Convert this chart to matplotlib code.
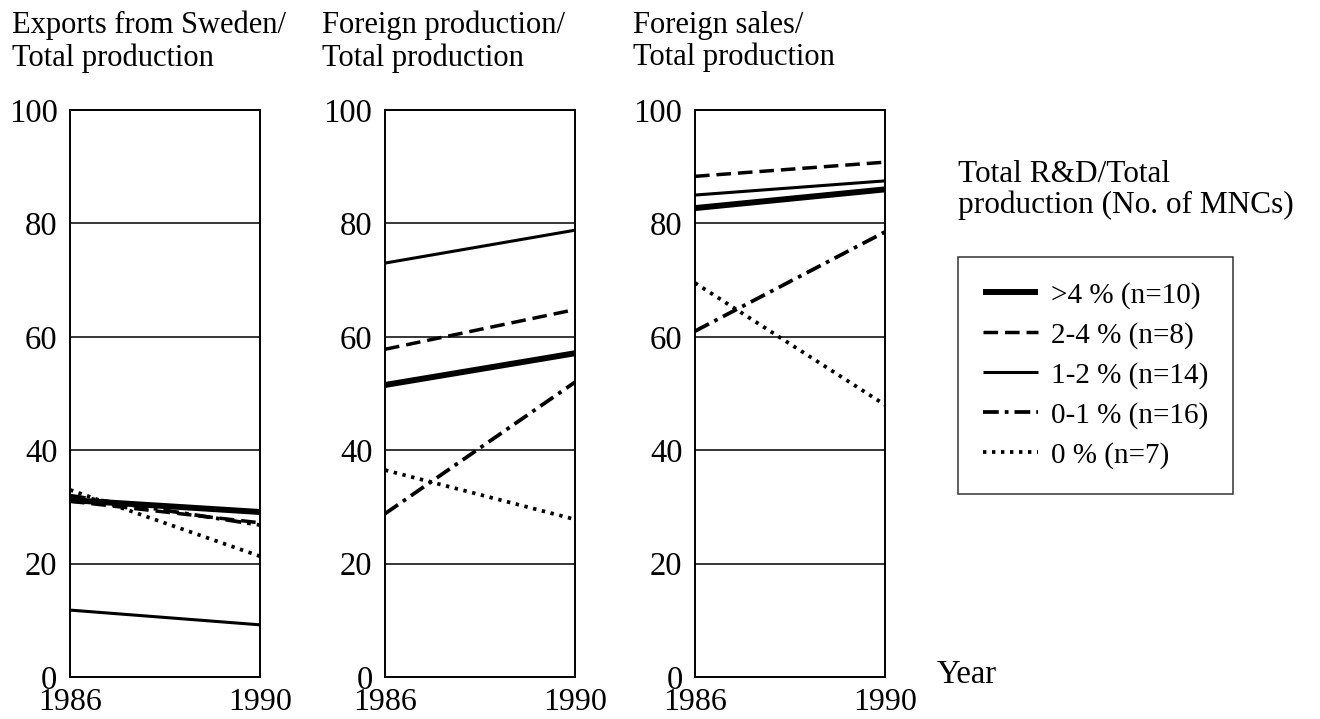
import matplotlib
matplotlib.use("Agg")
import matplotlib.pyplot as plt
from matplotlib.lines import Line2D

plt.rcParams['font.family'] = ['Liberation Serif', 'DejaVu Serif']

years = [1986, 1990]
categories = [">4 % (n=10)", "2-4 % (n=8)", "1-2 % (n=14)", "0-1 % (n=16)", "0 % (n=7)"]
panel_titles = ["Exports from Sweden/\nTotal production",
                "Foreign production/\nTotal production",
                "Foreign sales/\nTotal production"]

exports_sweden = {
    ">4 % (n=10)": [31.2, 29.1],
    "2-4 % (n=8)": [31.0, 27.2],
    "1-2 % (n=14)": [11.8, 9.2],
    "0-1 % (n=16)": [32.0, 26.8],
    "0 % (n=7)": [33.0, 21.3],
}
foreign_production = {
    ">4 % (n=10)": [51.5, 57.1],
    "2-4 % (n=8)": [57.8, 64.8],
    "1-2 % (n=14)": [73.0, 78.8],
    "0-1 % (n=16)": [28.8, 52.0],
    "0 % (n=7)": [36.5, 27.8],
}
foreign_sales = {
    ">4 % (n=10)": [82.7, 86.0],
    "2-4 % (n=8)": [88.3, 90.8],
    "1-2 % (n=14)": [85.0, 87.5],
    "0-1 % (n=16)": [61.0, 78.5],
    "0 % (n=7)": [69.5, 48.0],
}
panels = [exports_sweden, foreign_production, foreign_sales]
yticks = [0, 20, 40, 60, 80, 100]

styles = {
    ">4 % (n=10)": dict(lw=4.3, linestyle='-'),
    "2-4 % (n=8)": dict(lw=2.5, linestyle=(0, (4.2, 2.0))),
    "1-2 % (n=14)": dict(lw=2.2, linestyle='-'),
    "0-1 % (n=16)": dict(lw=2.7, linestyle=(0, (4.2, 1.6, 1.0, 1.6))),
    "0 % (n=7)": dict(lw=2.7, linestyle=(0, (0.9, 1.5))),
}

W, H = 1320, 719
fig = plt.figure(figsize=(W / 100, H / 100), dpi=100)
fig.patch.set_facecolor('white')

lefts = [70, 385, 695]
title_x = [12, 322, 633]
width = 190
top, bottom = 110, 677

def fx(px):
    return px / W

def fy(py):
    return 1 - py / H

for i, (data, left) in enumerate(zip(panels, lefts)):
    ax = fig.add_axes([fx(left), fy(bottom), width / W, (bottom - top) / H])
    for cat in categories:
        ax.plot(years, data[cat], color='black', solid_capstyle='butt',
                dash_capstyle='butt', **styles[cat])
    ax.set_xlim(years[0], years[1])
    ax.set_ylim(0, 100)
    ax.set_yticks(yticks)
    ax.set_yticklabels([str(t) for t in yticks], fontsize=23.5)
    ax.set_xticks(years)
    ax.set_xticklabels([str(y) for y in years], fontsize=23)
    ax.tick_params(axis='both', length=0)
    ax.tick_params(axis='x', pad=8)
    ax.tick_params(axis='y', pad=9)
    for lbl in ax.get_yticklabels():
        lbl.set_verticalalignment('center_baseline')
    for yv in yticks[1:-1]:
        ax.axhline(yv, color='black', lw=1.1, zorder=0)
    for s in ax.spines.values():
        s.set_linewidth(1.4)
        s.set_color('black')
    fig.text(fx(title_x[i]), fy(11), panel_titles[i], fontsize=22, va='top', ha='left',
             linespacing=1.12)

fig.text(fx(937), fy(675), "Year", fontsize=23.5, ha='left', va='center')

fig.text(fx(958), fy(160), "Total R&D/Total\nproduction (No. of MNCs)", fontsize=22.5,
         ha='left', va='top', linespacing=1.05)

handles = [Line2D([0], [0], color='black', solid_capstyle='butt', **styles[c]) for c in categories]
leg = fig.legend(handles, categories, loc='upper left',
                 bbox_to_anchor=(fx(958), fy(257)), fontsize=21, frameon=True,
                 fancybox=False, handlelength=1.9, handletextpad=0.45,
                 labelspacing=0.45, borderpad=0.85, borderaxespad=0)
leg.get_frame().set_edgecolor('black')
leg.get_frame().set_linewidth(1.1)

fig.savefig("out.png", dpi=100, facecolor='white')
